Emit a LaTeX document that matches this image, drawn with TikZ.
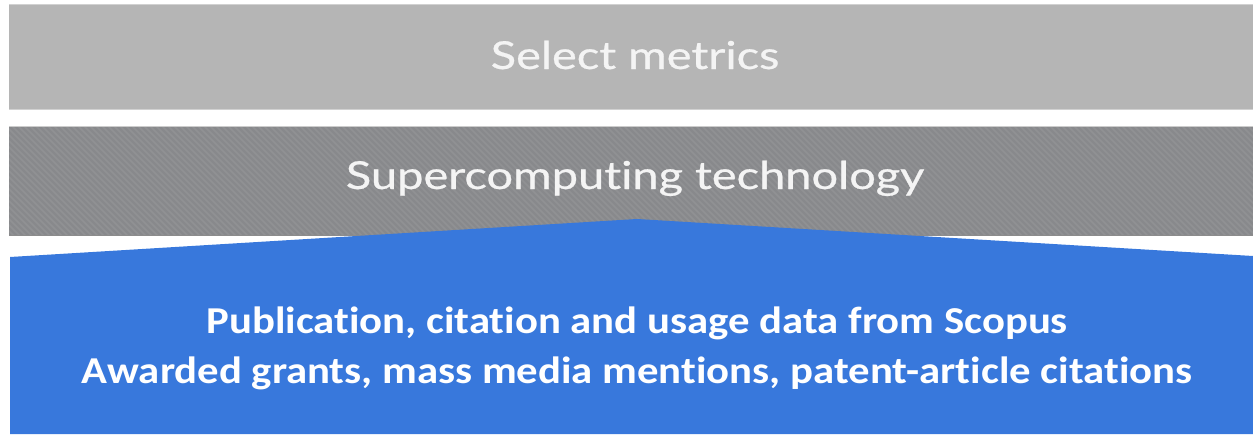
\documentclass[tikz,border=0pt]{standalone}
\usepackage{fontspec}
\newfontfamily\bandfont[Ligatures=NoCommon,FakeBold=0.6]{Lato}
\newfontfamily\bluefont[Ligatures=NoCommon]{Carlito}
\definecolor{bandlight}{HTML}{B5B5B5}
\definecolor{banddark}{HTML}{88898C}
\definecolor{baseblue}{HTML}{3878DC}
\definecolor{bandtext}{HTML}{F4F4F4}
\newcommand{\widen}[2]{\scalebox{#1}[1]{#2}}
\tikzset{
  band/.style={inner sep=0pt, anchor=base, text=bandtext,
    font=\bandfont\fontsize{38.5}{42}\selectfont},
  basetext/.style={inner sep=0pt, anchor=base, text=white,
    font=\bluefont\bfseries\fontsize{38}{42}\selectfont},
}
\begin{document}
\begin{tikzpicture}[x=1pt,y=-1pt]
\useasboundingbox (0,0) rectangle (1253,434);
\fill[white] (0,0) rectangle (1253,434);

% top band
\fill[bandlight] (9,4) rectangle (1253,110);
\draw[white!82!black, line width=1pt] (9,4.5) -- (1253,4.5) (9,109.5) -- (1253,109.5);
\node[band] (metrics) at (635,69) {\widen{1.22}{Select metrics}};

% middle band with a fine diagonal texture
\fill[banddark] (9,126) rectangle (1253,236);
\begin{scope}
  \clip (9,126) rectangle (1253,236);
  \foreach \i in {-120,-114,...,1260}
    \draw[white, opacity=0.07, line width=1.6pt] (\i,126) -- (\i+110,236);
\end{scope}
\draw[white!80!black, line width=1pt] (9,126.5) -- (1253,126.5);
\draw[black!45, line width=1pt] (9,235.5) -- (1253,235.5);
\node[band] (tech) at (635,189) {\widen{1.22}{Supercomputing technology}};

% blue base with a shallow peak
\fill[baseblue] (10,257) -- (637,219) -- (1253,256) -- (1253,434) -- (10,434) -- cycle;
\node[basetext] (data1) at (637,333) {\widen{1.125}{Publication, citation and usage data from Scopus}};
\node[basetext] (data2) at (637,383) {\widen{1.125}{Awarded grants, mass media mentions, patent-article citations}};
\end{tikzpicture}
\end{document}
